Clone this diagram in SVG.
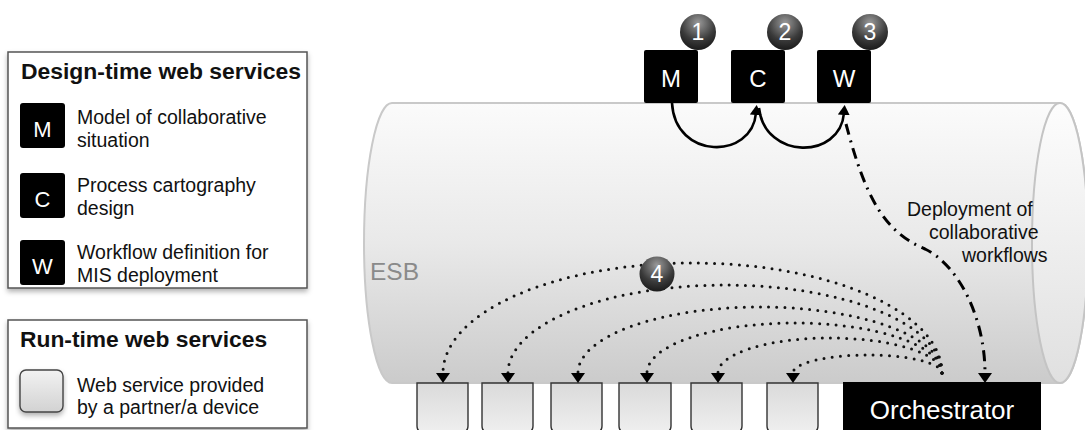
<svg xmlns="http://www.w3.org/2000/svg" width="1085" height="430" viewBox="0 0 1085 430">
<style>
text{font-family:"Liberation Sans",Arial,sans-serif}
.lg{font-size:19.5px;fill:#111}
.ttl{font-size:22.8px;font-weight:bold;fill:#111}
.sq{fill:#000}
.sqt{fill:#fff;text-anchor:middle}
.num{fill:#fff;font-size:23px;text-anchor:middle}
.ws{fill:url(#gBox);stroke:#333;stroke-width:1.4}
.dot{fill:none;stroke:#111;stroke-width:3;stroke-linecap:round;stroke-dasharray:0 8.2}
.solid{fill:none;stroke:#000;stroke-width:2.6}
.dd{fill:none;stroke:#000;stroke-width:3;stroke-dasharray:11 6 2 6}
</style>
<defs>
<linearGradient id="gCyl" x1="0" y1="0" x2="0" y2="1">
<stop offset="0" stop-color="#fbfbfb"/>
<stop offset="0.5" stop-color="#e9e9e9"/>
<stop offset="1" stop-color="#cbcbcb"/>
</linearGradient>
<linearGradient id="gCap" x1="0" y1="0" x2="0" y2="1">
<stop offset="0" stop-color="#fdfdfd"/>
<stop offset="1" stop-color="#e0e0e0"/>
</linearGradient>
<linearGradient id="gBox" x1="0" y1="0" x2="0" y2="1">
<stop offset="0" stop-color="#dadada"/>
<stop offset="1" stop-color="#efefef"/>
</linearGradient>
<linearGradient id="gLBox" x1="0" y1="0" x2="0" y2="1">
<stop offset="0" stop-color="#f2f2f2"/>
<stop offset="1" stop-color="#d2d2d2"/>
</linearGradient>
<radialGradient id="gNum" cx="0.5" cy="0.25" r="0.8">
<stop offset="0" stop-color="#9a9a9a"/>
<stop offset="0.6" stop-color="#3a3a3a"/>
<stop offset="1" stop-color="#151515"/>
</radialGradient>
<filter id="sh" x="-10%" y="-10%" width="120%" height="130%">
<feDropShadow dx="0" dy="3" stdDeviation="2.5" flood-color="#000" flood-opacity="0.3"/>
</filter>
<marker id="ah" viewBox="0 0 10 14" refX="0" refY="7" markerUnits="userSpaceOnUse" markerWidth="10" markerHeight="14" orient="auto">
<path d="M0,0 L10,7 L0,14 Z" fill="#000"/>
</marker>
<marker id="ahs" viewBox="0 0 10 12" refX="2" refY="6" markerUnits="userSpaceOnUse" markerWidth="10" markerHeight="12" orient="auto">
<path d="M0,0 L10,6 L0,12 Z" fill="#000"/>
</marker>
</defs>

<g id="legend-design">
<rect x="8" y="52" width="299" height="236" fill="#fff" stroke="#555" stroke-width="1.5" filter="url(#sh)"/>
<text class="ttl" x="21" y="79" textLength="280" lengthAdjust="spacingAndGlyphs">Design-time web services</text>
<rect class="sq" x="20" y="103" width="45" height="45" rx="3"/>
<text class="sqt" x="42.5" y="137" font-size="22">M</text>
<text class="lg" x="77" y="124">Model of collaborative</text>
<text class="lg" x="77" y="147">situation</text>
<rect class="sq" x="20" y="173" width="45" height="45" rx="3"/>
<text class="sqt" x="42.5" y="207" font-size="22">C</text>
<text class="lg" x="77" y="192">Process cartography</text>
<text class="lg" x="77" y="215">design</text>
<rect class="sq" x="20" y="240" width="45" height="45" rx="3"/>
<text class="sqt" x="42.5" y="274" font-size="22">W</text>
<text class="lg" x="77" y="259">Workflow definition for</text>
<text class="lg" x="77" y="282">MIS deployment</text>
</g>

<g id="legend-runtime">
<rect x="8" y="320" width="299" height="108" fill="#fff" stroke="#555" stroke-width="1.5" filter="url(#sh)"/>
<text class="ttl" x="20" y="347">Run-time web services</text>
<rect x="20" y="370" width="43" height="42" rx="6" fill="url(#gLBox)" stroke="#444" stroke-width="1.4" filter="url(#sh)"/>
<text class="lg" x="77" y="392">Web service provided</text>
<text class="lg" x="77" y="414">by a partner/a device</text>
</g>

<g id="esb">
<path d="M392,103 L1060,103 A28,140 0 0 1 1060,383 L392,383 A28,140 0 0 1 392,103 Z" fill="url(#gCyl)" stroke="#c9c9c9" stroke-width="2"/>
<ellipse cx="1060" cy="243" rx="28" ry="140" fill="url(#gCap)" stroke="#c4c4c4" stroke-width="2"/>
<text x="370" y="280" font-size="24.5" fill="#8a8a8a">ESB</text>
</g>

<g id="node-M">
<circle cx="698" cy="32" r="18" fill="url(#gNum)"/>
<text class="num" x="698" y="40">1</text>
<rect class="sq" x="644" y="50" width="54" height="53" rx="2"/>
<text class="sqt" x="671" y="87" font-size="24">M</text>
</g>
<g id="node-C">
<circle cx="785" cy="32" r="18" fill="url(#gNum)"/>
<text class="num" x="785" y="40">2</text>
<rect class="sq" x="731" y="50" width="54" height="53" rx="2"/>
<text class="sqt" x="758" y="87" font-size="24">C</text>
</g>
<g id="node-W">
<circle cx="870" cy="32" r="18" fill="url(#gNum)"/>
<text class="num" x="870" y="40">3</text>
<rect class="sq" x="817" y="50" width="54" height="53" rx="2"/>
<text class="sqt" x="844" y="87" font-size="24">W</text>
</g>

<g id="services">
<path class="ws" d="M417,383 H468 V426 Q468,432 462,432 H423 Q417,432 417,426 Z"/>
<path class="ws" d="M482,383 H533 V426 Q533,432 527,432 H488 Q482,432 482,426 Z"/>
<path class="ws" d="M551,383 H602 V426 Q602,432 596,432 H557 Q551,432 551,426 Z"/>
<path class="ws" d="M619,383 H671 V426 Q671,432 665,432 H625 Q619,432 619,426 Z"/>
<path class="ws" d="M691,383 H742 V426 Q742,432 736,432 H697 Q691,432 691,426 Z"/>
<path class="ws" d="M767,383 H818 V426 Q818,432 812,432 H773 Q767,432 767,426 Z"/>
</g>

<g id="node-orchestrator">
<rect x="843" y="382" width="198" height="52" fill="#000"/>
<text x="942" y="419" font-size="26" fill="#fff" text-anchor="middle">Orchestrator</text>
</g>

<g id="connectors">
<path class="solid" d="M672,103 C675,160 752,160 756,113" marker-end="url(#ahs)"/>
<path class="solid" d="M759,108 C765,160 840,160 844,113" marker-end="url(#ahs)"/>
<path class="dd" d="M846,124 C866,200 885,232 925,249 C960,266 985,320 985,373" marker-end="url(#ah)"/>
<path class="dot" d="M942,373 A249.5,110 0 0 0 443,373" marker-end="url(#ah)"/>
<path class="dot" d="M942,373 A217,88 0 0 0 508,373" marker-end="url(#ah)"/>
<path class="dot" d="M942,373 A182,66 0 0 0 578,373" marker-end="url(#ah)"/>
<path class="dot" d="M942,373 A147.5,50 0 0 0 647,373" marker-end="url(#ah)"/>
<path class="dot" d="M942,373 A112,35 0 0 0 718,373" marker-end="url(#ah)"/>
<path class="dot" d="M942,373 A74.5,18 0 0 0 793,373" marker-end="url(#ah)"/>
</g>

<g id="node-4">
<circle cx="657" cy="274" r="17.5" fill="url(#gNum)"/>
<text class="num" x="657" y="282">4</text>
</g>

<g id="label-deploy">
<text class="lg" x="907" y="216">Deployment of</text>
<text class="lg" x="929" y="239">collaborative</text>
<text class="lg" x="962" y="262">workflows</text>
</g>
</svg>
